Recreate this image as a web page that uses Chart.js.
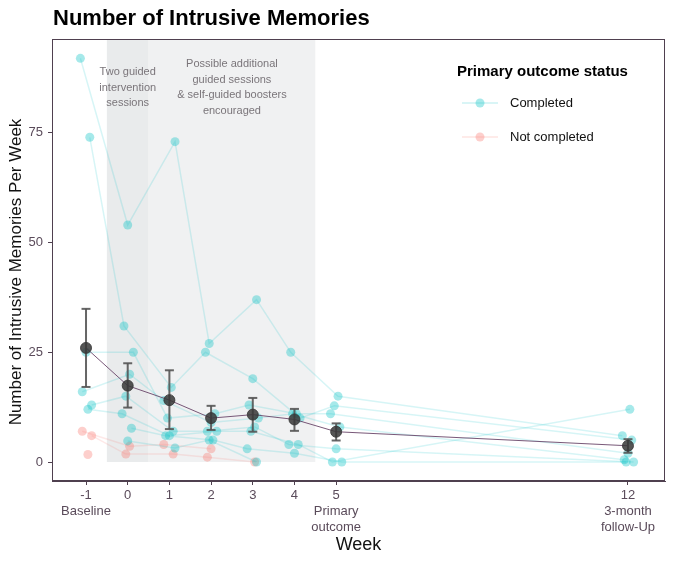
<!DOCTYPE html>
<html>
<head>
<meta charset="utf-8">
<style>
  html, body { margin: 0; padding: 0; background: #fff; }
  #grafico { display: block; }
</style>
<script src="https://cdn.jsdelivr.net/npm/chart.js@4.4.0/dist/chart.umd.min.js"></script>
</head>
<body>
<canvas id="grafico" width="682" height="566"></canvas>
<script>
// semanas do estudo e rotulos do eixo x
var semanas = [-1, 0, 1, 2, 3, 4, 5, 12];
var rotulosSemana = [['-1', 'Baseline'], ['0'], ['1'], ['2'], ['3'], ['4'], ['5', 'Primary', 'outcome'], ['12', '3-month', 'follow-Up']];
var ticksY = [0, 25, 50, 75];

// participantes que completaram o desfecho primario (null = sem dado)
var completos = [
	[92, 54, 73, 27, 37, 25, 15, 6],
	[74, 31, 17, 25, 19, 10, 12.8, 5],
	[25, 25, 10, 11, 13, 11, 11, 2],
	[16, 20, 14, 9, 10, 11, 8, 0.5],
	[13, 15, 7, 7, 8, 4, 3, 0],
	[12, 11, 6, 7, 7, 4, 0, 12],
	[null, 7.7, 6, 5, 3, 2, 0, 0],
	[null, 4.8, 3.2, 5, 0, null, null, null]
];
var naoCompletos = [
	[7, 3.6, 4, 3, null, null, null, null],
	[6, 1.8, 1.8, 1.1, 0, null, null, null],
	[1.7, null, null, null, null, null, null, null]
];

// media e intervalo de confianca por semana
var media = [26, 17.4, 14.1, 10, 10.8, 9.7, 6.9, 3.7];
var icInferior = [17.1, 12.4, 7.5, 7.3, 6.9, 7.1, 4.9, 2.1];
var icSuperior = [34.9, 22.5, 20.9, 12.8, 14.6, 12.1, 8.8, 5.2];

// periodos de intervencao (em semanas)
var periodoGuiado = [-0.5, 0.5];
var periodoOpcional = [0.5, 4.5];
var textoGuiado = ['Two guided', 'intervention', 'sessions'];
var textoOpcional = ['Possible additional', 'guided sessions', '& self-guided boosters', 'encouraged'];

var FONTE = '"Liberation Sans", Arial, sans-serif';
var COR_EIXO = '#4f404f';
var CIANO = '0,191,196';
var SALMAO = '248,118,109';

var Grafico = Grafico || {};

Grafico.MemoriasIntrusivas = (function() {

	function MemoriasIntrusivas() {
		this.ctx = document.getElementById('grafico').getContext('2d');
	}

	MemoriasIntrusivas.prototype.iniciar = function() {
		var datasets = [];

		datasets.push({
			label: 'media',
			data: semanas.map(function(s, i) { return { x: s, y: media[i] }; }),
			borderColor: 'rgba(105,70,105,0.9)',
			borderWidth: 1,
			pointRadius: 5.5,
			pointBackgroundColor: 'rgba(55,55,55,0.85)',
			pointBorderColor: 'rgba(55,55,55,0.85)',
			pointBorderWidth: 1,
			order: 0
		});

		var barras = [];
		semanas.forEach(function(s, i) {
			barras.push({ x: s, y: icInferior[i] }, { x: s, y: icSuperior[i] }, { x: s, y: null });
		});
		datasets.push({
			label: 'ic',
			data: barras,
			borderColor: 'rgba(85,85,85,0.9)',
			borderWidth: 2,
			pointStyle: 'line',
			pointRadius: 4.5,
			pointBorderColor: 'rgba(85,85,85,0.9)',
			pointBorderWidth: 2,
			spanGaps: false,
			order: 1
		});

		completos.forEach(function(valores, p) {
			datasets.push(linhaParticipante(valores, p, CIANO));
		});
		naoCompletos.forEach(function(valores, p) {
			datasets.push(linhaParticipante(valores, p + 3, SALMAO));
		});

		new Chart(this.ctx, {
			type: 'line',
			data: { datasets: datasets },
			options: {
				responsive: false,
				animation: false,
				events: [],
				layout: { padding: { top: 39, right: 17, left: 0, bottom: 0 } },
				plugins: { legend: { display: false }, tooltip: { enabled: false }, title: { display: false } },
				scales: {
					x: {
						type: 'linear',
						min: -1.816,
						max: 12.888,
						afterFit: function(scale) { scale.height = 85; },
						afterBuildTicks: function(scale) {
							scale.ticks = semanas.map(function(s) { return { value: s }; });
						},
						ticks: {
							color: '#5a4b5a',
							font: { family: FONTE, size: 13, lineHeight: 1.2 },
							padding: 3,
							maxRotation: 0,
							autoSkip: false,
							callback: function(valor) {
								var i = semanas.indexOf(valor);
								return i >= 0 ? rotulosSemana[i] : '';
							}
						},
						grid: { drawOnChartArea: false, drawTicks: true, tickLength: 4, color: COR_EIXO },
						border: { display: true, color: COR_EIXO, width: 1 },
						title: {
							display: true,
							text: 'Week',
							color: '#111',
							font: { family: FONTE, size: 18, lineHeight: 1.2 },
							padding: { top: 0, bottom: 10 }
						}
					},
					y: {
						type: 'linear',
						min: -4.33,
						max: 96.4,
						afterFit: function(scale) { scale.width = 52; },
						afterBuildTicks: function(scale) {
							scale.ticks = ticksY.map(function(v) { return { value: v }; });
						},
						ticks: {
							color: '#5a4b5a',
							font: { family: FONTE, size: 13 },
							padding: 5
						},
						grid: { drawOnChartArea: false, drawTicks: true, tickLength: 4, color: COR_EIXO },
						border: { display: true, color: COR_EIXO, width: 1 },
						title: { display: false }
					}
				}
			},
			plugins: [pluginFundo, pluginMoldura]
		});
	};

	function desvio(p, s) {
		// pequeno deslocamento horizontal (jitter fixo) para separar os pontos
		return (((p * 5 + s * 3) % 7) - 3) * 0.045;
	}

	function linhaParticipante(valores, p, cor) {
		var pontos = [];
		valores.forEach(function(v, s) {
			if (v !== null) pontos.push({ x: semanas[s] + desvio(p, s), y: v });
		});
		return {
			label: 'participante',
			data: pontos,
			borderColor: 'rgba(' + cor + ',0.16)',
			borderWidth: 1.5,
			pointRadius: 4.5,
			pointBackgroundColor: 'rgba(' + cor + ',0.35)',
			pointBorderWidth: 0,
			order: 2
		};
	}

	var pluginFundo = {
		id: 'fundo',
		beforeDatasetsDraw: function(chart) {
			var ctx = chart.ctx, x = chart.scales.x, y = chart.scales.y, area = chart.chartArea;
			var y0 = y.getPixelForValue(0);
			ctx.save();
			ctx.fillStyle = '#f0f1f2';
			ctx.fillRect(x.getPixelForValue(periodoOpcional[0]), area.top,
				x.getPixelForValue(periodoOpcional[1]) - x.getPixelForValue(periodoOpcional[0]), y0 - area.top);
			ctx.fillStyle = '#e9ebec';
			ctx.fillRect(x.getPixelForValue(periodoGuiado[0]), area.top,
				x.getPixelForValue(periodoGuiado[1]) - x.getPixelForValue(periodoGuiado[0]), y0 - area.top);

			ctx.fillStyle = '#7a757a';
			ctx.font = '11px ' + FONTE;
			ctx.textAlign = 'center';
			ctx.textBaseline = 'middle';
			var cx1 = x.getPixelForValue((periodoGuiado[0] + periodoGuiado[1]) / 2);
			textoGuiado.forEach(function(t, i) { ctx.fillText(t, cx1, area.top + 33 + i * 15.5); });
			var cx2 = x.getPixelForValue((periodoOpcional[0] + periodoOpcional[1]) / 2);
			textoOpcional.forEach(function(t, i) { ctx.fillText(t, cx2, area.top + 25 + i * 15.6); });
			ctx.restore();
		}
	};

	var pluginMoldura = {
		id: 'moldura',
		afterDraw: function(chart) {
			var ctx = chart.ctx, area = chart.chartArea;
			ctx.save();
			ctx.strokeStyle = COR_EIXO;
			ctx.lineWidth = 1;
			ctx.strokeRect(area.left + 0.5, area.top + 0.5, area.right - area.left - 1, area.bottom - area.top - 1);

			// titulo
			ctx.fillStyle = '#000';
			ctx.font = 'bold 22px ' + FONTE;
			ctx.textAlign = 'left';
			ctx.textBaseline = 'middle';
			ctx.fillText('Number of Intrusive Memories', area.left + 1, 19);

			// titulo do eixo y
			ctx.save();
			ctx.translate(16, 272);
			ctx.rotate(-Math.PI / 2);
			ctx.textAlign = 'center';
			ctx.fillStyle = '#111';
			ctx.font = '17px ' + FONTE;
			ctx.fillText('Number of Intrusive Memories Per Week', 0, 0);
			ctx.restore();

			// legenda
			ctx.fillStyle = '#000';
			ctx.font = 'bold 15px ' + FONTE;
			ctx.fillText('Primary outcome status', 457, 72);
			desenhaItem(ctx, 'Completed', CIANO, 103);
			desenhaItem(ctx, 'Not completed', SALMAO, 137);
			ctx.restore();
		}
	};

	function desenhaItem(ctx, texto, cor, yy) {
		ctx.strokeStyle = 'rgba(' + cor + ',0.2)';
		ctx.lineWidth = 1.5;
		ctx.beginPath();
		ctx.moveTo(462, yy);
		ctx.lineTo(498, yy);
		ctx.stroke();
		ctx.fillStyle = 'rgba(' + cor + ',0.35)';
		ctx.beginPath();
		ctx.arc(480, yy, 4.5, 0, Math.PI * 2);
		ctx.fill();
		ctx.fillStyle = '#111';
		ctx.font = '13px ' + FONTE;
		ctx.fillText(texto, 510, yy);
	}

	return MemoriasIntrusivas;

}());

document.addEventListener('DOMContentLoaded', function() {
	var grafico = new Grafico.MemoriasIntrusivas();
	grafico.iniciar();
});
</script>
</body>
</html>
